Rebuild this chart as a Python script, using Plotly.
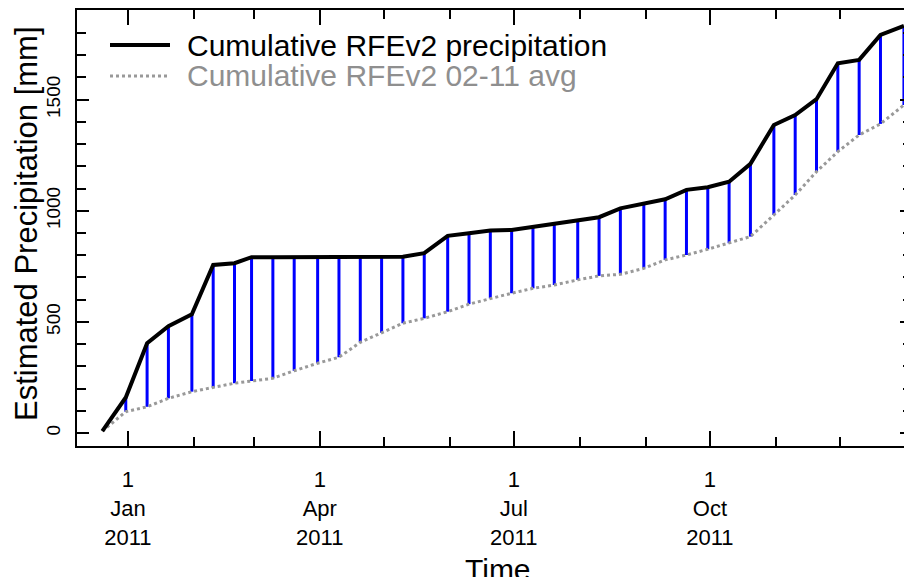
import plotly.graph_objects as go

# ---- data ----
dates = [
    "2010-12-20", "2010-12-31",
    "2011-01-10", "2011-01-20", "2011-01-31",
    "2011-02-10", "2011-02-20", "2011-02-28",
    "2011-03-10", "2011-03-20", "2011-03-31",
    "2011-04-10", "2011-04-20", "2011-04-30",
    "2011-05-10", "2011-05-20", "2011-05-31",
    "2011-06-10", "2011-06-20", "2011-06-30",
    "2011-07-10", "2011-07-20", "2011-07-31",
    "2011-08-10", "2011-08-20", "2011-08-31",
    "2011-09-10", "2011-09-20", "2011-09-30",
    "2011-10-10", "2011-10-20", "2011-10-31",
    "2011-11-10", "2011-11-20", "2011-11-30",
    "2011-12-10", "2011-12-20", "2011-12-31",
]
rfe_cumulative = [
    8, 160,
    404, 481, 534,
    756, 764, 791,
    791, 791, 791,
    791, 791, 791,
    793, 809, 887,
    899, 911, 914,
    929, 944, 959,
    971, 1011, 1034,
    1052, 1094, 1106,
    1131, 1211, 1386,
    1431, 1502, 1664,
    1679, 1791, 1832,
]
avg_cumulative = [
    8, 96,
    118, 156, 186,
    204, 224, 234,
    246, 280, 314,
    341, 408, 451,
    494, 516, 546,
    580, 606, 629,
    651, 666, 689,
    707, 714, 741,
    779, 801, 827,
    854, 884, 981,
    1071, 1176, 1266,
    1341, 1391, 1476,
]
major_tick_dates = ["2011-01-01", "2011-04-01", "2011-07-01", "2011-10-01"]
major_tick_text = ["1<br>Jan<br>2011", "1<br>Apr<br>2011", "1<br>Jul<br>2011", "1<br>Oct<br>2011"]
minor_tick_dates = ["2011-%02d-01" % m for m in range(1, 13)]
y_tick_vals = [0, 500, 1000, 1500]
y_tick_text = ["0", "500", "1000", "1500"]
legend_names = ["Cumulative RFEv2 precipitation", "Cumulative RFEv2 02-11 avg"]

FONT = "Liberation Sans, Arial, Helvetica, sans-serif"

# ---- vertical difference segments ----
seg_x, seg_y = [], []
for d, hi, lo in zip(dates, rfe_cumulative, avg_cumulative):
    seg_x += [d, d, None]
    seg_y += [lo, hi, None]

fig = go.Figure()
fig.add_trace(go.Scatter(x=seg_x, y=seg_y, mode="lines",
                         line=dict(color="#0000ff", width=3),
                         showlegend=False, hoverinfo="skip"))
fig.add_trace(go.Scatter(x=dates, y=avg_cumulative, mode="lines",
                         line=dict(color="#999999", width=3, dash="dot"),
                         name=legend_names[1], showlegend=False))
fig.add_trace(go.Scatter(x=dates, y=rfe_cumulative, mode="lines",
                         line=dict(color="#000000", width=4),
                         name=legend_names[0], showlegend=False))
# right-hand tick axis (ticks only, no line)
fig.add_trace(go.Scatter(x=[dates[0]], y=[0], yaxis="y2", mode="lines",
                         showlegend=False, hoverinfo="skip",
                         line=dict(color="rgba(0,0,0,0)")))

# page body has an 8px margin; compensate so the plot box lands where wanted
OFF = 8
W, H = 912 - OFF, 577 - OFF
# wanted plot box on screen: x 77..912, y 10..446
L, R, T, B = 77 - OFF, 0, 10 - OFF, (H + OFF) - 446


def px(xpix):
    return (xpix - 77) / (912 - 77)


def py(ypix):
    return (446 - ypix) / (446 - 10)


yr = [-58.5, 1903.5]

fig.update_layout(
    width=W, height=H,
    margin=dict(l=L, r=R, t=T, b=B, pad=0),
    paper_bgcolor="white", plot_bgcolor="white",
    font=dict(family=FONT, color="black"),
    showlegend=False,
    xaxis=dict(
        type="date",
        range=["2010-12-08 03:00", "2012-01-03 19:00"],
        showline=True, linecolor="black", linewidth=2, mirror="ticks",
        showgrid=False, zeroline=False,
        tickmode="array", tickvals=major_tick_dates, ticktext=major_tick_text,
        ticks="inside", ticklen=15, tickwidth=2, tickcolor="black",
        tickfont=dict(size=22, family=FONT, color="black"),
        ticklabelstandoff=13,
        minor=dict(tickmode="array", tickvals=minor_tick_dates,
                   ticks="inside", ticklen=9, tickwidth=2, tickcolor="black",
                   showgrid=False),
    ),
    yaxis=dict(
        range=yr,
        showline=True, linecolor="black", linewidth=2, mirror=False,
        showgrid=False, zeroline=False,
        tickmode="array", tickvals=y_tick_vals, ticktext=y_tick_text,
        ticks="inside", ticklen=12, tickwidth=2, tickcolor="black",
        tickangle=-90,
        tickfont=dict(size=19, family=FONT, color="black"),
        ticklabelstandoff=7,
        minor=dict(tickmode="linear", tick0=0, dtick=100,
                   ticks="inside", ticklen=9, tickwidth=2, tickcolor="black",
                   showgrid=False),
    ),
    yaxis2=dict(
        overlaying="y", side="right", range=yr,
        showline=False, showgrid=False, zeroline=False, showticklabels=False,
        tickmode="array", tickvals=y_tick_vals,
        ticks="inside", ticklen=12, tickwidth=2, tickcolor="black",
        minor=dict(tickmode="linear", tick0=0, dtick=100,
                   ticks="inside", ticklen=9, tickwidth=2, tickcolor="black",
                   showgrid=False),
    ),
)

# legend drawn by hand (sample lines + labels)
fig.add_shape(type="line", xref="paper", yref="paper",
              x0=px(110), x1=px(170), y0=py(45), y1=py(45),
              line=dict(color="black", width=4))
fig.add_shape(type="line", xref="paper", yref="paper",
              x0=px(110), x1=px(170), y0=py(76), y1=py(76),
              line=dict(color="#999999", width=3, dash="dot"))
fig.add_annotation(xref="paper", yref="paper", x=px(185), y=py(45),
                   xanchor="left", yanchor="middle", showarrow=False,
                   text=legend_names[0],
                   font=dict(size=30, family=FONT, color="black"))
fig.add_annotation(xref="paper", yref="paper", x=px(185), y=py(76),
                   xanchor="left", yanchor="middle", showarrow=False,
                   text=legend_names[1],
                   font=dict(size=30, family=FONT, color="#8f8f8f"))

# axis titles
fig.add_annotation(xref="paper", yref="paper", x=px(26), y=py(224),
                   xanchor="center", yanchor="middle", showarrow=False,
                   textangle=-90, text="Estimated Precipitation [mm]",
                   font=dict(size=31, family=FONT, color="black"))
fig.add_annotation(xref="paper", yref="paper", x=px(498), y=py(551),
                   xanchor="center", yanchor="top", showarrow=False,
                   text="Time",
                   font=dict(size=30, family=FONT, color="black"))

fig.write_html("out.html")
